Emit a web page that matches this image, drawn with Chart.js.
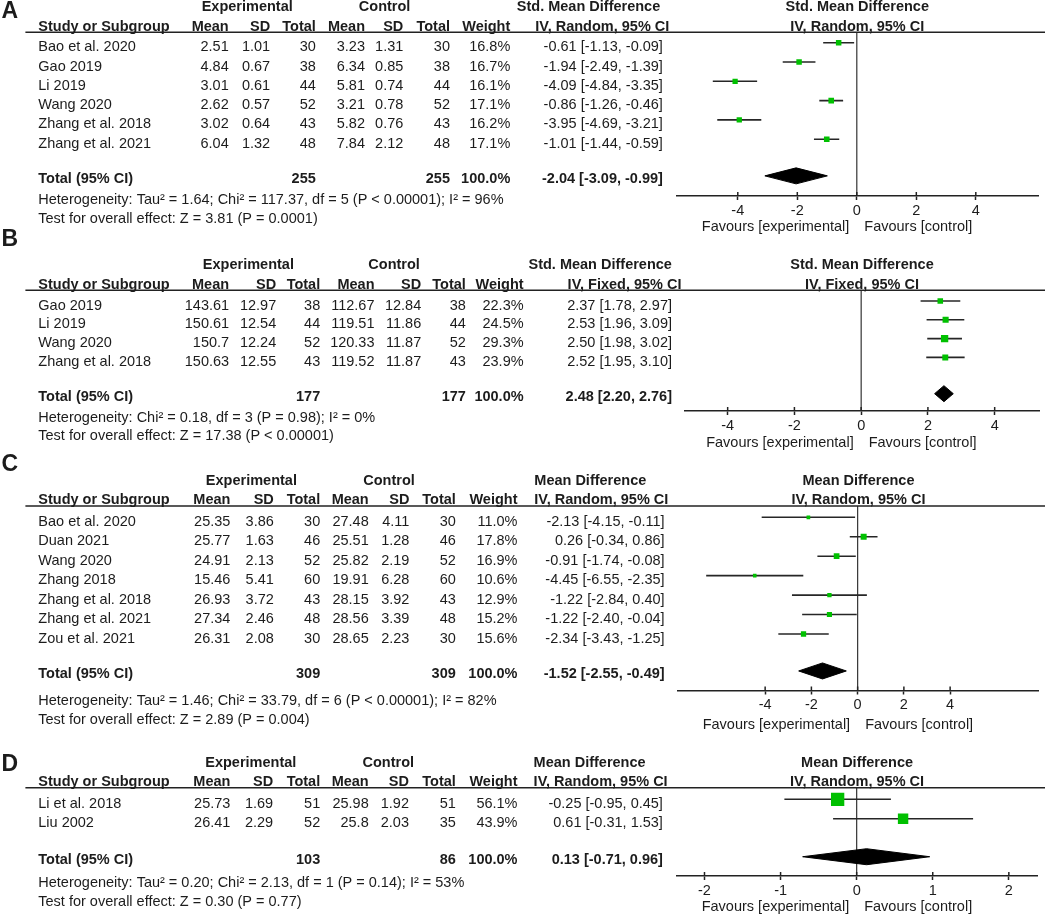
<!DOCTYPE html>
<html><head><meta charset="utf-8">
<script src="https://cdn.jsdelivr.net/npm/chart.js@4.4.1/dist/chart.umd.min.js"></script>
<style>
html,body{margin:0;padding:0;background:#fff;width:1052px;height:918px;overflow:hidden}
canvas{position:absolute;left:0;top:0}
</style></head><body>
<canvas id="cA" width="1052" height="918"></canvas>
<canvas id="cB" width="1052" height="918"></canvas>
<canvas id="cC" width="1052" height="918"></canvas>
<canvas id="cD" width="1052" height="918"></canvas>
<script>
// ---------- Panel A data ----------
const A_studies = ["Bao et al. 2020","Gao 2019","Li 2019","Wang 2020","Zhang et al. 2018","Zhang et al. 2021"];
const A_expMean = [2.51,4.84,3.01,2.62,3.02,6.04];
const A_expSD   = [1.01,0.67,0.61,0.57,0.64,1.32];
const A_expN    = [30,38,44,52,43,48];
const A_ctlMean = [3.23,6.34,5.81,3.21,5.82,7.84];
const A_ctlSD   = [1.31,0.85,0.74,0.78,0.76,2.12];
const A_ctlN    = [30,38,44,52,43,48];
const A_weight  = [16.8,16.7,16.1,17.1,16.2,17.1];
const A_est     = [-0.61,-1.94,-4.09,-0.86,-3.95,-1.01];
const A_lo      = [-1.13,-2.49,-4.84,-1.26,-4.69,-1.44];
const A_hi      = [-0.09,-1.39,-3.35,-0.46,-3.21,-0.59];
const A_totalN  = [255,255];
const A_totalCI = [-2.04,-3.09,-0.99];
const A_measure = ["Std. Mean Difference","IV, Random, 95% CI"];
const A_het     = "Heterogeneity: Tau\u00b2 = 1.64; Chi\u00b2 = 117.37, df = 5 (P < 0.00001); I\u00b2 = 96%";
const A_test    = "Test for overall effect: Z = 3.81 (P = 0.0001)";
const A_ticks   = [-4,-2,0,2,4];

// ---------- Panel B data ----------
const B_studies = ["Gao 2019","Li 2019","Wang 2020","Zhang et al. 2018"];
const B_expMean = [143.61,150.61,150.7,150.63];
const B_expSD   = [12.97,12.54,12.24,12.55];
const B_expN    = [38,44,52,43];
const B_ctlMean = [112.67,119.51,120.33,119.52];
const B_ctlSD   = [12.84,11.86,11.87,11.87];
const B_ctlN    = [38,44,52,43];
const B_weight  = [22.3,24.5,29.3,23.9];
const B_est     = [2.37,2.53,2.50,2.52];
const B_lo      = [1.78,1.96,1.98,1.95];
const B_hi      = [2.97,3.09,3.02,3.10];
const B_totalN  = [177,177];
const B_totalCI = [2.48,2.20,2.76];
const B_measure = ["Std. Mean Difference","IV, Fixed, 95% CI"];
const B_het     = "Heterogeneity: Chi\u00b2 = 0.18, df = 3 (P = 0.98); I\u00b2 = 0%";
const B_test    = "Test for overall effect: Z = 17.38 (P < 0.00001)";
const B_ticks   = [-4,-2,0,2,4];

// ---------- Panel C data ----------
const C_studies = ["Bao et al. 2020","Duan 2021","Wang 2020","Zhang 2018","Zhang et al. 2018","Zhang et al. 2021","Zou et al. 2021"];
const C_expMean = [25.35,25.77,24.91,15.46,26.93,27.34,26.31];
const C_expSD   = [3.86,1.63,2.13,5.41,3.72,2.46,2.08];
const C_expN    = [30,46,52,60,43,48,30];
const C_ctlMean = [27.48,25.51,25.82,19.91,28.15,28.56,28.65];
const C_ctlSD   = [4.11,1.28,2.19,6.28,3.92,3.39,2.23];
const C_ctlN    = [30,46,52,60,43,48,30];
const C_weight  = [11.0,17.8,16.9,10.6,12.9,15.2,15.6];
const C_est     = [-2.13,0.26,-0.91,-4.45,-1.22,-1.22,-2.34];
const C_lo      = [-4.15,-0.34,-1.74,-6.55,-2.84,-2.40,-3.43];
const C_hi      = [-0.11,0.86,-0.08,-2.35,0.40,-0.04,-1.25];
const C_totalN  = [309,309];
const C_totalCI = [-1.52,-2.55,-0.49];
const C_measure = ["Mean Difference","IV, Random, 95% CI"];
const C_het     = "Heterogeneity: Tau\u00b2 = 1.46; Chi\u00b2 = 33.79, df = 6 (P < 0.00001); I\u00b2 = 82%";
const C_test    = "Test for overall effect: Z = 2.89 (P = 0.004)";
const C_ticks   = [-4,-2,0,2,4];

// ---------- Panel D data ----------
const D_studies = ["Li et al. 2018","Liu 2002"];
const D_expMean = [25.73,26.41];
const D_expSD   = [1.69,2.29];
const D_expN    = [51,52];
const D_ctlMean = [25.98,25.8];
const D_ctlSD   = [1.92,2.03];
const D_ctlN    = [51,35];
const D_weight  = [56.1,43.9];
const D_est     = [-0.25,0.61];
const D_lo      = [-0.95,-0.31];
const D_hi      = [0.45,1.53];
const D_totalN  = [103,86];
const D_totalCI = [0.13,-0.71,0.96];
const D_measure = ["Mean Difference","IV, Random, 95% CI"];
const D_het     = "Heterogeneity: Tau\u00b2 = 0.20; Chi\u00b2 = 2.13, df = 1 (P = 0.14); I\u00b2 = 53%";
const D_test    = "Test for overall effect: Z = 0.30 (P = 0.77)";
const D_ticks   = [-2,-1,0,1,2];

const favours = ["Favours [experimental]","Favours [control]"];
const colHeads = ["Study or Subgroup","Mean","SD","Total","Mean","SD","Total","Weight"];
const groupHeads = ["Experimental","Control"];

// ---------- layout (positions/styles only) ----------
const FONT = '"Liberation Sans", Arial, Helvetica, sans-serif';
const FS = 14.5;
const TXT = '#1c1c1c';
const GREEN = '#00c000';
const W = 1052, H = 918, XH = 40;

const LAY = {
  A:{label:'A', labelY:11.7, top:32.3, axis:196, left:676.5, right:1038, xmin:-6.06, xmax:6.09, row:19.3, first:10.4, gap:1.9, maxSide:5.6,
     cols:[228.7,270.1,315.8,365,403.3,450,510.3,662.9], exp:247.2, ctl:384.6, m1:516.8, m2:535.3, het:21, test:40, fav:30.7},
  B:{label:'B', labelY:240, top:290.3, axis:411, left:684.6, right:1039.4, xmin:-5.29, xmax:5.34, row:18.8, first:10.7, gap:1.93, maxSide:7.3,
     cols:[229.1,276.2,320.2,374.5,421.2,465.9,523.6,672], exp:248.4, ctl:394.1, m1:528.5, m2:567.6, het:20.6, test:38.5, fav:31.5},
  C:{label:'C', labelY:465, top:506, axis:690.5, left:678.2, right:1038.7, xmin:-7.76, xmax:7.83, row:19.45, first:11.3, gap:1.9, maxSide:6,
     cols:[230.4,273.8,320.2,368.7,409.4,455.8,517.5,664.6], exp:251.4, ctl:389, m1:534.3, m2:534.3, het:26.7, test:45.7, fav:34.5},
  D:{label:'D', labelY:765, top:787.7, axis:876, left:677.1, right:1037, xmin:-2.36, xmax:2.37, row:19.4, first:11.6, gap:1.96, maxSide:13.3,
     cols:[230.4,273.1,320.2,368.7,409,455.8,517.5,662.9], exp:250.8, ctl:388.3, m1:533.6, m2:533.6, het:22.7, test:42, fav:30.7}
};

function txt(ctx, s, x, y, align, bold, size){
  ctx.font = (bold ? 'bold ' : '') + (size || FS) + 'px ' + FONT;
  ctx.textAlign = align; ctx.textBaseline = 'middle'; ctx.fillStyle = TXT;
  ctx.fillText(s, x, y);
}
const f2 = v => v.toFixed(2);
const ciText = (e, l, h) => f2(e) + ' [' + f2(l) + ', ' + f2(h) + ']';

function makePanel(id, D, L){
  const n = D.studies.length;
  const rt = n - 1 + L.gap;
  const ymin = -L.first / L.row;
  const ymax = (L.axis - L.top - L.first) / L.row;
  const wmax = Math.max(...D.weight);
  const hh = 8 / L.row;
  const datasets = [];
  datasets.push({type:'line', data:D.est.map((v,i)=>({x:v,y:i})), showLine:false, pointStyle:'rect',
    pointRadius:D.weight.map(w=>L.maxSide*w/wmax/Math.SQRT2), pointBackgroundColor:GREEN, pointBorderColor:GREEN,
    pointBorderWidth:0, pointHoverRadius:0, order:0});
  D.lo.forEach((lo,i)=>datasets.push({type:'line', data:[{x:lo,y:i},{x:D.hi[i],y:i}], borderColor:'#262626',
    borderWidth:1.6, pointRadius:0, fill:false, order:1}));
  const [te, tl, th] = D.totalCI;
  datasets.push({type:'line', data:[{x:tl,y:rt},{x:te,y:rt-hh},{x:th,y:rt},{x:te,y:rt+hh},{x:tl,y:rt}],
    fill:'shape', backgroundColor:'#000', borderColor:'#000', borderWidth:1, pointRadius:0, tension:0, order:2});
  datasets.push({type:'line', data:[{x:0,y:ymin},{x:0,y:ymax}], borderColor:'#333', borderWidth:1.2, pointRadius:0, fill:false, order:3});

  const tablePlugin = {
    id:'table'+id,
    afterDraw(chart){
      const ctx = chart.ctx, x = chart.scales.x, y = chart.scales.y, ca = chart.chartArea;
      ctx.save();
      ctx.strokeStyle = '#222'; ctx.lineWidth = 1.5;
      ctx.beginPath(); ctx.moveTo(25.4, ca.top); ctx.lineTo(1045, ca.top); ctx.stroke();
      D.ticks.forEach(v=>{ const px = x.getPixelForValue(v); ctx.beginPath(); ctx.moveTo(px, ca.bottom); ctx.lineTo(px, ca.bottom-4); ctx.stroke(); });
      txt(ctx, L.label, 1.5, L.labelY, 'left', true, 23);
      const h1 = ca.top - 25, h2 = ca.top - 5.7;
      txt(ctx, groupHeads[0], L.exp, h1, 'center', true);
      txt(ctx, groupHeads[1], L.ctl, h1, 'center', true);
      txt(ctx, D.measure[0], L.m1, h1, 'left', true);
      txt(ctx, colHeads[0], 38.3, h2, 'left', true);
      for (let k=1;k<8;k++) txt(ctx, colHeads[k], L.cols[k-1], h2, 'right', true);
      txt(ctx, D.measure[1], L.m2, h2, 'left', true);
      const cx = (ca.left + ca.right)/2;
      txt(ctx, D.measure[0], cx, h1, 'center', true);
      txt(ctx, D.measure[1], cx, h2, 'center', true);
      for (let i=0;i<n;i++){
        const py = y.getPixelForValue(i) + 4.5;
        txt(ctx, D.studies[i], 38.3, py, 'left', false);
        const vals = [String(D.expMean[i]), String(D.expSD[i]), String(D.expN[i]), String(D.ctlMean[i]), String(D.ctlSD[i]), String(D.ctlN[i]), D.weight[i].toFixed(1)+'%', ciText(D.est[i], D.lo[i], D.hi[i])];
        vals.forEach((s,k)=>txt(ctx, s, L.cols[k], py, 'right', false));
      }
      const ty = y.getPixelForValue(rt) + 3.5;
      txt(ctx, 'Total (95% CI)', 38.3, ty, 'left', true);
      txt(ctx, String(D.totalN[0]), L.cols[2], ty, 'right', true);
      txt(ctx, String(D.totalN[1]), L.cols[5], ty, 'right', true);
      txt(ctx, '100.0%', L.cols[6], ty, 'right', true);
      txt(ctx, ciText(te, tl, th), L.cols[7], ty, 'right', true);
      txt(ctx, D.het, 38.3, ty + L.het, 'left', false);
      txt(ctx, D.test, 38.3, ty + L.test, 'left', false);
      const zx = x.getPixelForValue(0), fy = ca.bottom + L.fav;
      txt(ctx, favours[0], zx - 7.5, fy, 'right', false);
      txt(ctx, favours[1], zx + 7.5, fy, 'left', false);
      ctx.restore();
    }
  };

  new Chart(document.getElementById(id), {
    type:'line',
    data:{datasets},
    options:{
      responsive:false, animation:false, events:[],
      layout:{padding:{left:L.left, right:W-L.right, top:L.top, bottom:H-L.axis-XH}},
      plugins:{legend:{display:false}, tooltip:{enabled:false}, title:{display:false}},
      scales:{
        x:{type:'linear', min:L.xmin, max:L.xmax,
           afterBuildTicks:s=>{ s.ticks = D.ticks.map(v=>({value:v})); },
           afterFit:s=>{ s.height = XH; },
           grid:{display:true, drawOnChartArea:false, drawTicks:true, tickLength:4, tickWidth:1.5, tickColor:'#222'},
           border:{display:true, color:'#222', width:1.5},
           ticks:{font:{family:FONT, size:FS}, color:TXT, padding:2, maxRotation:0, autoSkip:false, callback:v=>String(v)}},
        y:{type:'linear', reverse:true, min:ymin, max:ymax, display:false}
      }
    },
    plugins:[tablePlugin]
  });
}

function pack(studies, expMean, expSD, expN, ctlMean, ctlSD, ctlN, weight, est, lo, hi, totalN, totalCI, measure, het, test, ticks){
  return {studies, expMean, expSD, expN, ctlMean, ctlSD, ctlN, weight, est, lo, hi, totalN, totalCI, measure, het, test, ticks};
}
makePanel('cA', pack(A_studies,A_expMean,A_expSD,A_expN,A_ctlMean,A_ctlSD,A_ctlN,A_weight,A_est,A_lo,A_hi,A_totalN,A_totalCI,A_measure,A_het,A_test,A_ticks), LAY.A);
makePanel('cB', pack(B_studies,B_expMean,B_expSD,B_expN,B_ctlMean,B_ctlSD,B_ctlN,B_weight,B_est,B_lo,B_hi,B_totalN,B_totalCI,B_measure,B_het,B_test,B_ticks), LAY.B);
makePanel('cC', pack(C_studies,C_expMean,C_expSD,C_expN,C_ctlMean,C_ctlSD,C_ctlN,C_weight,C_est,C_lo,C_hi,C_totalN,C_totalCI,C_measure,C_het,C_test,C_ticks), LAY.C);
makePanel('cD', pack(D_studies,D_expMean,D_expSD,D_expN,D_ctlMean,D_ctlSD,D_ctlN,D_weight,D_est,D_lo,D_hi,D_totalN,D_totalCI,D_measure,D_het,D_test,D_ticks), LAY.D);
</script>
</body></html>
